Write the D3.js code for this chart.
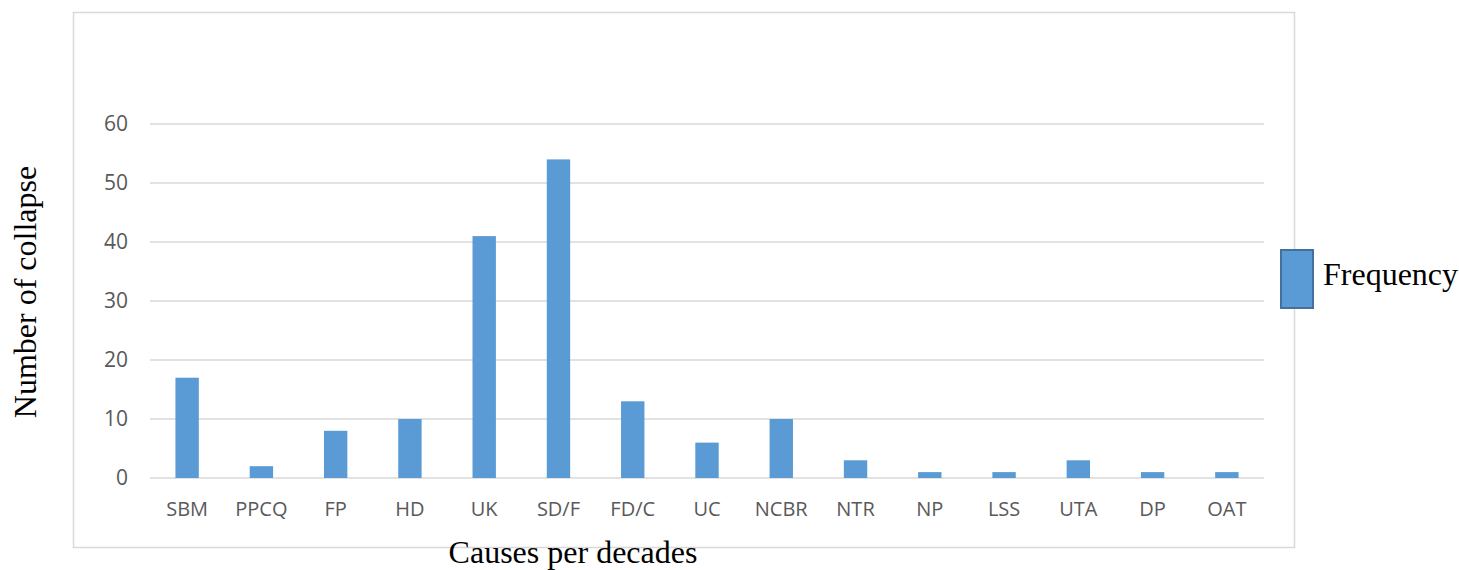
<!DOCTYPE html>
<html>
<head>
<meta charset="utf-8">
<script src="https://cdn.jsdelivr.net/npm/d3@7"></script>
<style>
  body { margin: 0; background: #fff; }
</style>
</head>
<body>
<div id="chart"></div>
<script>
var causes = ["SBM", "PPCQ", "FP", "HD", "UK", "SD/F", "FD/C", "UC", "NCBR", "NTR", "NP", "LSS", "UTA", "DP", "OAT"];
var frequency = [17, 2, 8, 10, 41, 54, 13, 6, 10, 3, 1, 1, 3, 1, 1];
var yTicks = [0, 10, 20, 30, 40, 50, 60];
var seriesName = "Frequency";

var W = 1459, H = 570;
var plot = {left: 150, right: 1264, top: 124, bottom: 478};

var svg = d3.select("#chart")
    .append("svg")
        .attr("width", W)
        .attr("height", H);

// outer chart border
svg.append("rect")
    .attr("x", 73.5)
    .attr("y", 12.5)
    .attr("width", 1221)
    .attr("height", 535)
    .attr("fill", "none")
    .attr("stroke", "#d9d9d9")
    .attr("stroke-width", 1.5);

var x = d3.scaleBand()
    .domain(causes)
    .range([plot.left, plot.right])
    .paddingInner(0.685)
    .paddingOuter(0.3425);

var y = d3.scaleLinear()
    .domain([0, 60])
    .range([plot.bottom, plot.top]);

// gridlines
svg.append("g")
    .selectAll("line")
    .data(yTicks)
    .enter()
    .append("line")
        .attr("x1", plot.left)
        .attr("x2", plot.right)
        .attr("y1", function(d) { return y(d); })
        .attr("y2", function(d) { return y(d); })
        .attr("stroke", "#d9d9d9")
        .attr("stroke-width", 1.3);

// y tick labels
svg.append("g")
    .selectAll("text")
    .data(yTicks)
    .enter()
    .append("text")
        .attr("x", 128)
        .attr("y", function(d) { return y(d); })
        .attr("dy", "0.35em")
        .attr("text-anchor", "end")
        .attr("fill", "#595959")
        .style("font-family", "'Open Sans', sans-serif")
        .style("font-size", "21px")
        .text(function(d) { return d; });

// x tick labels
svg.append("g")
    .selectAll("text")
    .data(causes)
    .enter()
    .append("text")
        .attr("x", function(d) { return x(d) + x.bandwidth() / 2; })
        .attr("y", 516)
        .attr("text-anchor", "middle")
        .attr("fill", "#595959")
        .style("font-family", "'Open Sans', sans-serif")
        .style("font-size", "20px")
        .text(function(d) { return d; });

// bars
svg.append("g")
    .selectAll("rect")
    .data(causes)
    .enter()
    .append("rect")
        .attr("x", function(d) { return x(d); })
        .attr("y", function(d, i) { return y(frequency[i]); })
        .attr("width", x.bandwidth())
        .attr("height", function(d, i) { return y(0) - y(frequency[i]); })
        .attr("fill", "#5b9bd5");

// axis titles
svg.append("text")
    .attr("x", 573)
    .attr("y", 563)
    .attr("text-anchor", "middle")
    .style("font-family", "'Liberation Serif', 'Times New Roman', serif")
    .style("font-size", "32px")
    .text("Causes per decades");

svg.append("text")
    .attr("transform", "translate(36,292) rotate(-90)")
    .attr("text-anchor", "middle")
    .style("font-family", "'Liberation Serif', 'Times New Roman', serif")
    .style("font-size", "32px")
    .text("Number of collapse");

// legend
var legend = svg.append("g");
legend.append("rect")
    .attr("x", 1281)
    .attr("y", 250)
    .attr("width", 32)
    .attr("height", 58)
    .attr("fill", "#5b9bd5")
    .attr("stroke", "#41719c")
    .attr("stroke-width", 2);
legend.append("text")
    .attr("x", 1323)
    .attr("y", 285)
    .style("font-family", "'Liberation Serif', 'Times New Roman', serif")
    .style("font-size", "32px")
    .text(seriesName);
</script>
</body>
</html>
